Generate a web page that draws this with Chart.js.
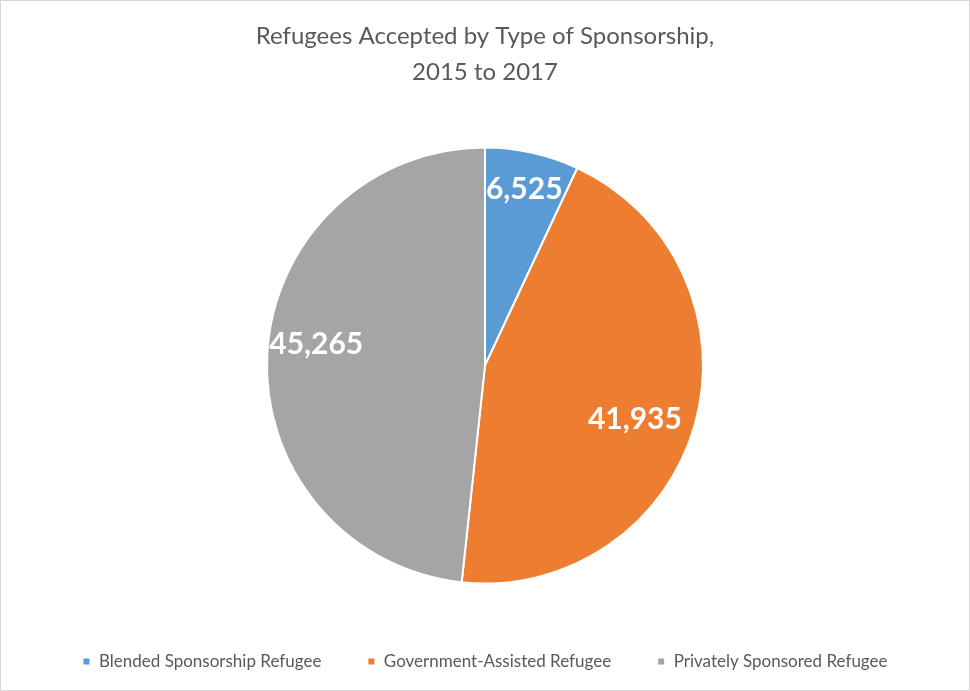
<!DOCTYPE html>
<html>
<head>
<meta charset="utf-8">
<script src="https://cdn.jsdelivr.net/npm/chart.js@4"></script>
<style>
  html, body { margin: 0; padding: 0; background: #fff; }
  #wrap { width: 970px; height: 691px; box-sizing: border-box; border: 1px solid #d9d9d9; }
</style>
</head>
<body>
<div id="wrap"><canvas id="chart" width="968" height="689"></canvas></div>
<script>
// ===== dados =====
const categories = ["Blended Sponsorship Refugee", "Government-Assisted Refugee", "Privately Sponsored Refugee"];
const refugees = [6525, 41935, 45265];
const sliceColors = ["#5B9BD5", "#ED7D31", "#A5A5A5"];
const titleLines = ["Refugees Accepted by Type of Sponsorship,", "2015 to 2017"];

const FONT = "Lato, 'Open Sans', sans-serif";

// rótulos brancos dentro das fatias (sem plugin datalabels)
const sliceLabels = {
  id: "sliceLabels",
  afterDatasetsDraw(chart) {
    const ctx = chart.ctx;
    const meta = chart.getDatasetMeta(0);
    const ds = chart.data.datasets[0];
    ctx.save();
    ctx.fillStyle = "#ffffff";
    ctx.font = "bold 30px " + FONT;
    ctx.textAlign = "center";
    ctx.textBaseline = "middle";
    meta.data.forEach((arc, i) => {
      const p = arc.getProps(["startAngle", "endAngle", "outerRadius", "x", "y"], true);
      // posição "best fit" aproximada do Excel
      const mid = (p.startAngle + p.endAngle) / 2 + [0, 0.07, 0.07][i];
      const k = [0.83, 0.73, 0.78][i];
      const r = p.outerRadius * k;
      ctx.fillText(ds.data[i].toLocaleString("en-US"), p.x + Math.cos(mid) * r, p.y + Math.sin(mid) * r);
    });
    ctx.restore();
  },
};

new Chart(document.getElementById("chart").getContext("2d"), {
  type: "pie",
  data: {
    labels: categories,
    datasets: [{
      data: refugees,
      backgroundColor: sliceColors,
      borderColor: "#ffffff",
      borderWidth: 2,
      radius: 218,
    }],
  },
  options: {
    responsive: false,
    animation: false,
    layout: { padding: { top: 10, bottom: 10, left: 0, right: 0 } },
    plugins: {
      title: {
        display: true,
        text: titleLines,
        color: "#595959",
        font: { family: FONT, size: 24, weight: "normal", lineHeight: 1.5 },
        padding: { top: 7, bottom: 34 },
      },
      legend: {
        position: "bottom",
        labels: {
          color: "#595959",
          font: { family: FONT, size: 17 },
          boxWidth: 8,
          boxHeight: 8,
          padding: 46,
        },
      },
      tooltip: { enabled: false },
    },
  },
  plugins: [sliceLabels],
});
</script>
</body>
</html>
